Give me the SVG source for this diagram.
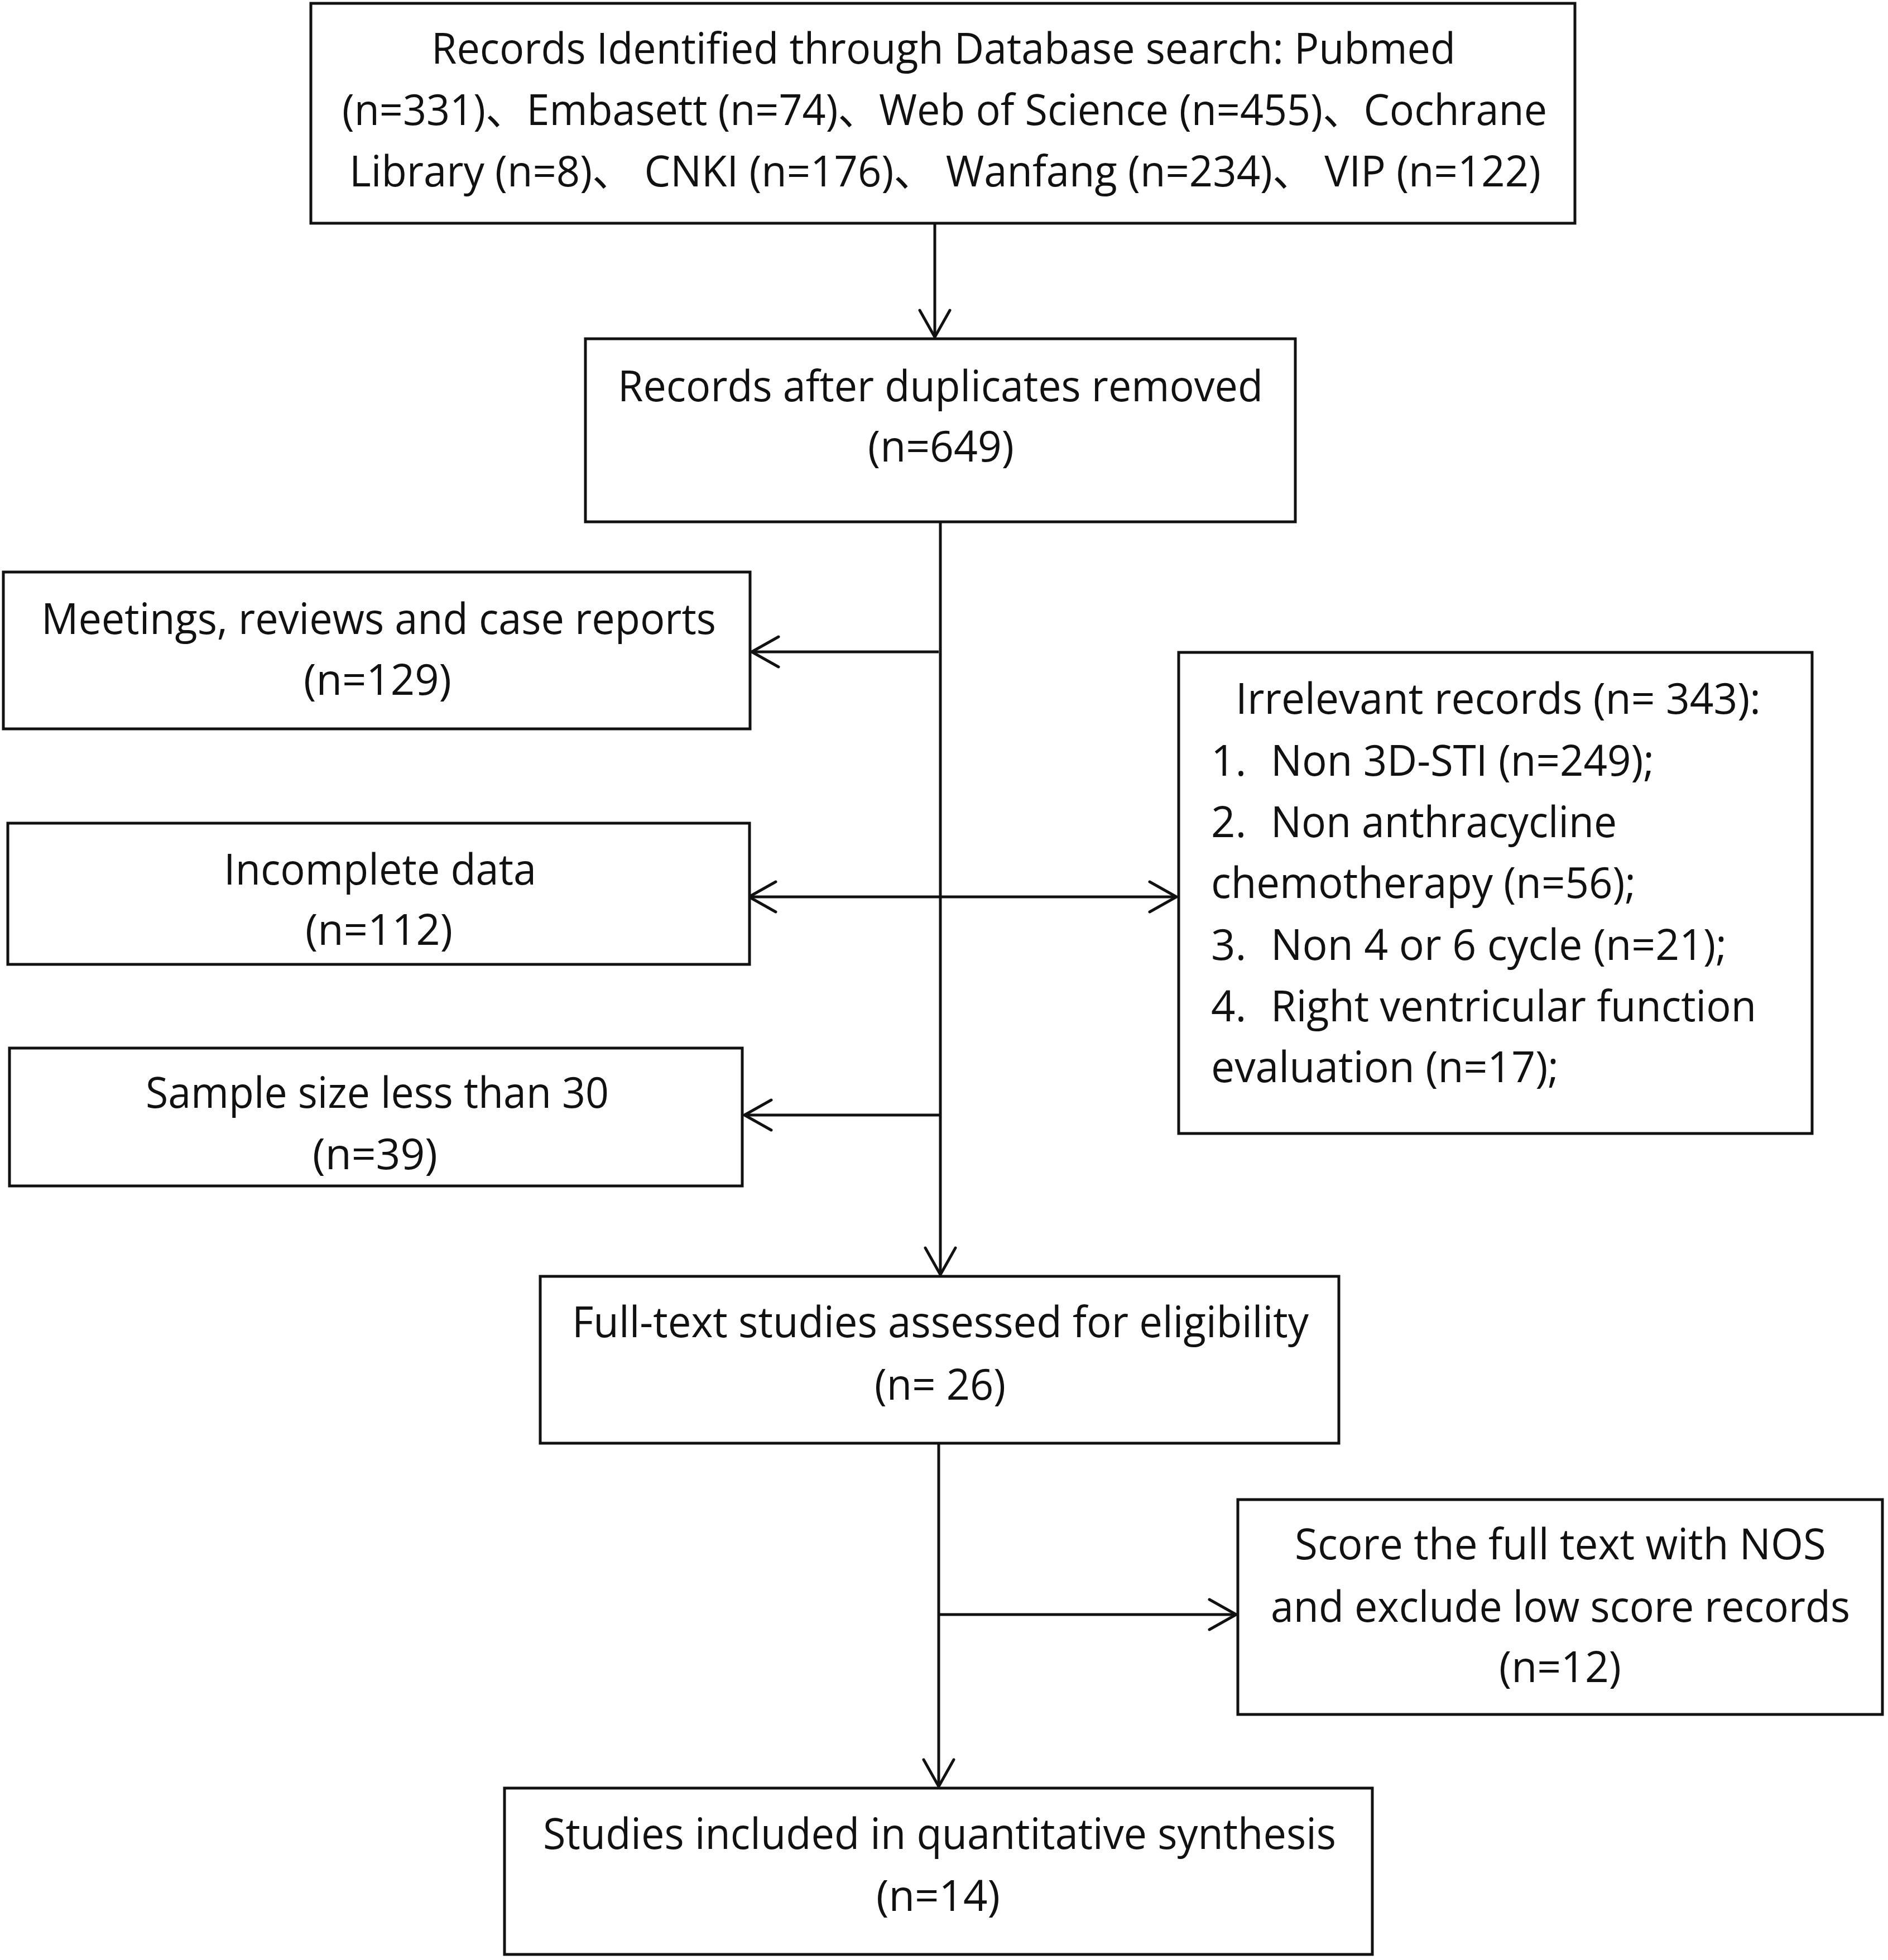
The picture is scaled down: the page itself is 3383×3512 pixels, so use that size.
<svg xmlns="http://www.w3.org/2000/svg" width="3383" height="3512" viewBox="0 0 3383 3512">
<style>
.box{fill:#fff;stroke:#111;stroke-width:5}
.t{font-family:"Open Sans","Noto Sans CJK SC",sans-serif;font-size:76px;fill:#111}
.c{fill:none;stroke:#111;stroke-width:5}
</style>
<defs>
<marker id="ah" markerUnits="userSpaceOnUse" viewBox="-60 -40 70 80" refX="0" refY="0" markerWidth="70" markerHeight="80" orient="auto-start-reverse">
<path d="M-48,-27 L0,0 L-48,27" fill="none" stroke="#111" stroke-width="5" stroke-linecap="round" stroke-linejoin="round"/>
</marker>
</defs>
<rect width="3383" height="3512" fill="#fff"/>
<g id="connectors">
<line class="c" x1="1675" y1="400" x2="1675" y2="604" marker-end="url(#ah)"/>
<line class="c" x1="1685" y1="935" x2="1685" y2="2284" marker-end="url(#ah)"/>
<line class="c" x1="1682" y1="1168" x2="1347" y2="1168" marker-end="url(#ah)"/>
<line class="c" x1="1342" y1="1607" x2="2108" y2="1607" marker-start="url(#ah)" marker-end="url(#ah)"/>
<line class="c" x1="1685" y1="1998" x2="1334" y2="1998" marker-end="url(#ah)"/>
<line class="c" x1="1682" y1="2586" x2="1682" y2="3201" marker-end="url(#ah)"/>
<line class="c" x1="1682" y1="2893" x2="2215" y2="2893" marker-end="url(#ah)"/>
</g>
<g id="n1">
<rect class="box" x="557" y="6" width="2265" height="394"/>
<text class="t" x="773" y="114" textLength="1835" lengthAdjust="spacingAndGlyphs">Records Identified through Database search: Pubmed</text>
<text class="t" x="613" y="224" textLength="2159" lengthAdjust="spacingAndGlyphs">(n=331)、Embasett (n=74)、Web of Science (n=455)、Cochrane</text>
<text class="t" x="626" y="334" textLength="2135" lengthAdjust="spacingAndGlyphs">Library (n=8)、 CNKI (n=176)、 Wanfang (n=234)、 VIP (n=122)</text>
</g>
<g id="n2">
<rect class="box" x="1049" y="607" width="1272" height="328"/>
<text class="t" x="1107" y="719" textLength="1156" lengthAdjust="spacingAndGlyphs">Records after duplicates removed</text>
<text class="t" x="1555" y="827" textLength="262" lengthAdjust="spacingAndGlyphs">(n=649)</text>
</g>
<g id="n3">
<rect class="box" x="6" y="1025" width="1338" height="281"/>
<text class="t" x="74" y="1136" textLength="1209" lengthAdjust="spacingAndGlyphs">Meetings, reviews and case reports</text>
<text class="t" x="544" y="1245" textLength="265" lengthAdjust="spacingAndGlyphs">(n=129)</text>
</g>
<g id="n4">
<rect class="box" x="14" y="1475" width="1329" height="253"/>
<text class="t" x="401" y="1585" textLength="560" lengthAdjust="spacingAndGlyphs">Incomplete data</text>
<text class="t" x="547" y="1693" textLength="264" lengthAdjust="spacingAndGlyphs">(n=112)</text>
</g>
<g id="n5">
<rect class="box" x="17" y="1878" width="1313" height="247"/>
<text class="t" x="261" y="1985" textLength="830" lengthAdjust="spacingAndGlyphs">Sample size less than 30</text>
<text class="t" x="560" y="2095" textLength="224" lengthAdjust="spacingAndGlyphs">(n=39)</text>
</g>
<g id="n6">
<rect class="box" x="2112" y="1169" width="1135" height="862"/>
<text class="t" x="2214" y="1279" textLength="941" lengthAdjust="spacingAndGlyphs">Irrelevant records (n= 343):</text>
<text class="t" x="2170" y="1390">1.</text>
<text class="t" x="2277" y="1390" textLength="687" lengthAdjust="spacingAndGlyphs">Non 3D-STI (n=249);</text>
<text class="t" x="2170" y="1500">2.</text>
<text class="t" x="2277" y="1500" textLength="620" lengthAdjust="spacingAndGlyphs">Non anthracycline</text>
<text class="t" x="2170" y="1609" textLength="761" lengthAdjust="spacingAndGlyphs">chemotherapy (n=56);</text>
<text class="t" x="2170" y="1720">3.</text>
<text class="t" x="2277" y="1720" textLength="817" lengthAdjust="spacingAndGlyphs">Non 4 or 6 cycle (n=21);</text>
<text class="t" x="2170" y="1830">4.</text>
<text class="t" x="2277" y="1830" textLength="870" lengthAdjust="spacingAndGlyphs">Right ventricular function</text>
<text class="t" x="2170" y="1939" textLength="623" lengthAdjust="spacingAndGlyphs">evaluation (n=17);</text>
</g>
<g id="n7">
<rect class="box" x="968" y="2287" width="1431" height="299"/>
<text class="t" x="1025" y="2396" textLength="1320" lengthAdjust="spacingAndGlyphs">Full-text studies assessed for eligibility</text>
<text class="t" x="1567" y="2508" textLength="235" lengthAdjust="spacingAndGlyphs">(n= 26)</text>
</g>
<g id="n8">
<rect class="box" x="2218" y="2687" width="1155" height="385"/>
<text class="t" x="2320" y="2794" textLength="952" lengthAdjust="spacingAndGlyphs">Score the full text with NOS</text>
<text class="t" x="2277" y="2906" textLength="1038" lengthAdjust="spacingAndGlyphs">and exclude low score records</text>
<text class="t" x="2686" y="3014" textLength="219" lengthAdjust="spacingAndGlyphs">(n=12)</text>
</g>
<g id="n9">
<rect class="box" x="904" y="3204" width="1555" height="298"/>
<text class="t" x="973" y="3313" textLength="1421" lengthAdjust="spacingAndGlyphs">Studies included in quantitative synthesis</text>
<text class="t" x="1570" y="3424" textLength="222" lengthAdjust="spacingAndGlyphs">(n=14)</text>
</g>
</svg>
